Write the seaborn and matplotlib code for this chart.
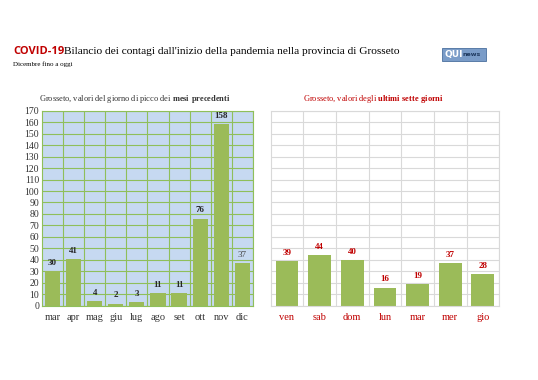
import matplotlib.pyplot as plt
import seaborn as sns
import numpy as np
import pandas as pd

mesi = ['mar', 'apr', 'mag', 'giu', 'lug', 'ago', 'set', 'ott', 'nov', 'dic']
picco = [30, 41, 4, 2, 3, 11, 11, 76, 158, 37]
giorni = ['ven', 'sab', 'dom', 'lun', 'mar', 'mer', 'gio']
ultimi = [39, 44, 40, 16, 19, 37, 28]

sns.set_style('white')
plt.rcParams['font.family'] = ['Liberation Serif', 'DejaVu Serif']
plt.rcParams['mathtext.fontset'] = 'custom'
plt.rcParams['mathtext.rm'] = 'Liberation Serif'
plt.rcParams['mathtext.bf'] = 'Liberation Serif:bold'

green = '#9bbb59'
red = '#c00000'

fig = plt.figure(figsize=(5.38, 3.80), dpi=100)
fig.patch.set_facecolor('white')

# titles
fig.text(0.024, 0.857, 'COVID-19', fontsize=8, color=red, fontweight='bold',
         family=['Open Sans', 'DejaVu Sans'])
fig.text(0.119, 0.857, "Bilancio dei contagi dall'inizio della pandemia nella provincia di Grosseto",
         fontsize=8.2, color='black')
fig.text(0.024, 0.826, 'Dicembre fino a oggi', fontsize=5, color='black')
# logo
fig.patches.append(plt.Rectangle((0.821, 0.840), 0.082, 0.034, transform=fig.transFigure,
                                 facecolor='#7a9cc8', edgecolor='#4a6f9e', lw=0.6))
fig.text(0.826, 0.857, 'QUI', fontsize=6.5, color='white', fontweight='bold', va='center',
         family=['DejaVu Sans'])
fig.text(0.859, 0.857, 'news', fontsize=4.5, color='#1f3a60', fontweight='bold', va='center',
         family=['DejaVu Sans'])

df1 = pd.DataFrame({'mese': mesi, 'casi': picco})
df2 = pd.DataFrame({'giorno': giorni, 'casi': ultimi})

ax1 = fig.add_axes([0.078, 0.195, 0.392, 0.514])
ax2 = fig.add_axes([0.503, 0.195, 0.425, 0.514])

sns.barplot(data=df1, x='mese', y='casi', color=green, width=0.72, saturation=1,
            linewidth=0, edgecolor='none', ax=ax1)
sns.barplot(data=df2, x='giorno', y='casi', color=green, width=0.7, saturation=1,
            linewidth=0, edgecolor='none', ax=ax2)

for ax, n, gcol in [(ax1, len(mesi), '#8fbf5a'), (ax2, len(giorni), '#d9d9d9')]:
    ax.set_ylim(0, 170)
    ax.set_xlim(-0.5, n - 0.5)
    ax.set_yticks(np.arange(0, 171, 10))
    ax.set_xticks(np.arange(n) + 0.5, minor=True)
    ax.grid(True, axis='y', which='major', color=gcol, lw=0.8)
    ax.grid(True, axis='x', which='minor', color=gcol, lw=0.8)
    ax.set_axisbelow(True)
    ax.set_xlabel('')
    ax.set_ylabel('')
    ax.tick_params(which='both', length=0)
    for s in ax.spines.values():
        s.set_color(gcol)
        s.set_linewidth(0.8)

ax1.set_facecolor('#c6d9f1')
ax1.tick_params(axis='y', labelsize=7, pad=2, labelcolor='#333333')
ax1.tick_params(axis='x', labelsize=7.5, pad=5, labelcolor='#333333')
labels1 = ax1.bar_label(ax1.containers[0], fontsize=6.5, fontweight='bold', padding=3)
labels1[-1].set_fontweight('normal')
labels1[-1].set_color('#444444')

ax2.set_facecolor('white')
ax2.set_yticklabels([])
ax2.tick_params(axis='x', labelsize=7.5, pad=5, labelcolor=red)
ax2.bar_label(ax2.containers[0], fontsize=6.5, fontweight='bold', padding=3, color=red)

fig.text(0.251, 0.735, 'Grosseto, valori del giorno di picco dei $\\mathbf{mesi\\ precedenti}$',
         fontsize=6, ha='center', color='#333333')
fig.text(0.695, 0.735, 'Grosseto, valori degli $\\mathbf{ultimi\\ sette\\ giorni}$',
         fontsize=6, ha='center', color=red)

fig.savefig('out.png', dpi=100)
